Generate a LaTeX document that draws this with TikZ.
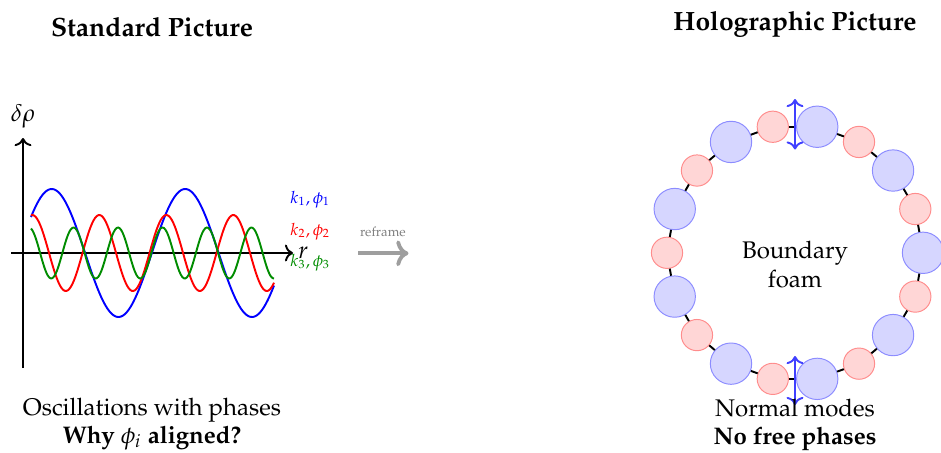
\documentclass[tikz,border=0pt]{standalone}
\usepackage{amsmath}
\usepackage[T1]{fontenc}
\usepackage{mathpazo}
\usetikzlibrary{arrows.meta}
\begin{document}
\begin{tikzpicture}[x=0.416pt,y=-0.416pt,
  title/.style={font=\fontsize{11}{13.6}\selectfont\bfseries, anchor=base, inner sep=0pt},
  captxt/.style={font=\normalsize, anchor=base, inner sep=0pt},
  axisline/.style={thick,->},
  wave/.style={thick},
  wlabel/.style={font=\scriptsize, anchor=base west, inner sep=0pt},
  bnode/.style={circle, draw=blue!45, fill=blue!16, minimum size=17.2pt, inner sep=0pt},
  rnode/.style={circle, draw=red!45, fill=red!16, minimum size=13pt, inner sep=0pt},
  ringline/.style={thick, black},
  vib/.style={thick, blue!75, <->},
  reframearrow/.style={line width=1.6pt, black!38, ->},
]
\useasboundingbox (0,0) rectangle (941,452);

% ---------- Left panel ----------
\node[title] (t1) at (152,36.7) {Standard Picture};

\coordinate (ybot) at (23,368);
\coordinate (ytop) at (23,138);
\coordinate (xleft) at (11,253);
\coordinate (xright) at (293,253);
\draw[axisline] (ybot) -- (ytop);
\draw[axisline] (xleft) -- (xright);
\node (dr) at (23,116) {$\delta\rho$};
\node[anchor=west, inner sep=2pt] (rl) at (xright) {$r$};

\draw[wave, blue] plot[domain=31:274, samples=160, smooth] (\x, {253 - 64*cos(2.6966*(\x-51.7))});
\draw[wave, red] plot[domain=31:274, samples=160, smooth] (\x, {253 - 38*cos(5.3731*(\x-32.3))});
\draw[wave, green!55!black] plot[domain=31:274, samples=160, smooth] (\x, {253 - 25.5*cos(8.0899*(\x-29))});

\node[wlabel, text=blue] (l1) at (290,203) {$k_1,\phi_1$};
\node[wlabel, text=red] (l2) at (290,235) {$k_2,\phi_2$};
\node[wlabel, text=green!55!black] (l3) at (290,266) {$k_3,\phi_3$};

\node[captxt] (c1) at (152,415) {Oscillations with phases};
\node[captxt] (c2) at (152,443) {\bfseries Why $\phi_i$ aligned?};

% ---------- reframe arrow ----------
\coordinate (rfa) at (358,253.3);
\coordinate (rfb) at (408.5,253.3);
\draw[reframearrow] (rfa) -- (rfb);
\node[anchor=base, inner sep=0pt, text=black!50, font=\fontsize{5.5}{6}\selectfont] (rft) at (383,236) {reframe};

% ---------- Right panel ----------
\node[title] (t2) at (795,30) {Holographic Picture};

\foreach \i in {0,2,...,16}
  \node[bnode] (n\i) at ({795+128*cos(20*\i)}, {252.8-128*sin(20*\i)}) {};
\foreach \i in {1,3,...,17}
  \node[rnode] (n\i) at ({795+128*cos(20*\i)}, {252.8-128*sin(20*\i)}) {};
\foreach \i in {0,...,17}{
  \pgfmathtruncatemacro{\j}{mod(\i+1,18)}
  \draw[ringline] (n\i) -- (n\j);
}

\coordinate (va) at (795,99);
\coordinate (vb) at (795,149.5);
\coordinate (vc) at (795,356);
\coordinate (vd) at (795,405);
\draw[vib] (va) -- (vb);
\draw[vib] (vc) -- (vd);

\node[captxt] (bf1) at (795,258) {Boundary};
\node[captxt] (bf2) at (795,287) {foam};

\node[captxt] (c3) at (795,416) {Normal modes};
\node[captxt] (c4) at (795,444) {\bfseries No free phases};
\end{tikzpicture}
\end{document}
